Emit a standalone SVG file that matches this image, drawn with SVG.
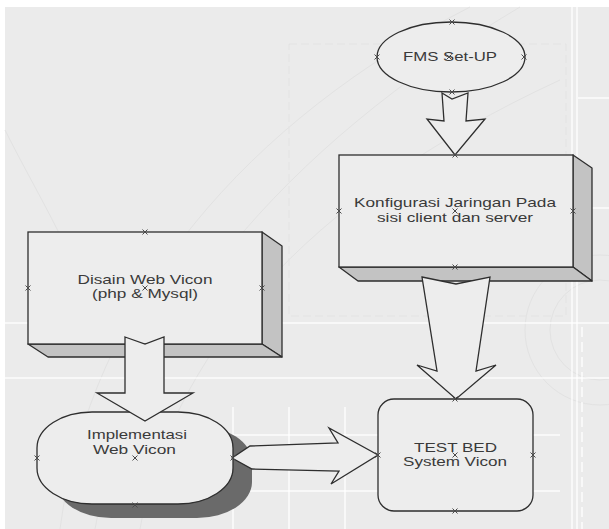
<svg xmlns="http://www.w3.org/2000/svg" xmlns:xlink="http://www.w3.org/1999/xlink" width="609" height="529" viewBox="0 0 609 529">
<defs>
<style>
.bg{fill:#ebebeb}
.deco{stroke:#ffffff;stroke-width:1.5;fill:none;opacity:0.85}
.faint{stroke:#e2e2e2;stroke-width:1;fill:none}
.dash{stroke:#e3e3e3;stroke-width:1;fill:none;stroke-dasharray:8 4}
.shape{fill:#ededed;stroke:#2e2e2e;stroke-width:1.3}
.side{fill:#c3c3c3;stroke:#2e2e2e;stroke-width:1.3;stroke-linejoin:round}
.shadow{fill:#6a6a6a}
.arrow{fill:#ededed;stroke:#2e2e2e;stroke-width:1.3;stroke-linejoin:miter}
.lbl{font-family:"Liberation Sans",Arial,sans-serif;font-size:13px;fill:#3a3a3a;text-anchor:middle}
.xm{stroke:#4a4a4a;stroke-width:1;fill:none}
</style>
<path id="x" class="xm" d="M-2.5,-2.5 L2.5,2.5 M-2.5,2.5 L2.5,-2.5"/>
</defs>

<rect width="609" height="529" fill="#ffffff"/>
<rect class="bg" x="5" y="7" width="604" height="522"/>

<g id="background">
<path class="faint" d="M60,529 C90,300 250,120 470,7"/>
<path class="faint" d="M95,529 C130,330 280,150 520,7"/>
<path class="faint" d="M140,529 C170,360 300,200 560,80"/>
<path class="faint" d="M5,130 C40,200 80,260 100,340"/>
<circle class="faint" cx="600" cy="330" r="75"/>
<circle class="faint" cx="600" cy="330" r="50"/>
<rect class="dash" x="289" y="44" width="277" height="272"/>
<line class="deco" x1="5" y1="323" x2="609" y2="323"/>
<line class="deco" x1="5" y1="378" x2="609" y2="378"/>
<line class="deco" x1="233" y1="435" x2="560" y2="435"/>
<line class="deco" x1="233" y1="491" x2="560" y2="491"/>
<line class="deco" x1="233" y1="407" x2="233" y2="529"/>
<line class="deco" x1="289" y1="407" x2="289" y2="529"/>
<line class="deco" x1="345" y1="407" x2="345" y2="529"/>
<line class="deco" x1="572" y1="7" x2="572" y2="529"/>
<line class="deco" x1="577" y1="7" x2="577" y2="529"/>
<line class="deco" x1="578" y1="98" x2="609" y2="98"/>
<line class="deco" x1="578" y1="208" x2="609" y2="208"/>
<line class="deco" x1="582" y1="327" x2="582" y2="529" stroke-dasharray="10 5"/>
</g>

<g id="node-fms">
<ellipse class="shape" cx="451" cy="57" rx="74" ry="35"/>
<text class="lbl" x="450" y="61" textLength="94" lengthAdjust="spacingAndGlyphs">FMS Set-UP</text>
</g>

<g id="node-konfigurasi">
<polygon class="side" points="573,155 592,168 592,281 573,267"/>
<polygon class="side" points="339,267 573,267 592,281 358,281"/>
<rect class="shape" x="339" y="155" width="234" height="112"/>
<text class="lbl" x="455" y="207" textLength="202" lengthAdjust="spacingAndGlyphs">Konfigurasi Jaringan Pada</text>
<text class="lbl" x="455" y="222" textLength="156" lengthAdjust="spacingAndGlyphs">sisi client dan server</text>
</g>

<g id="node-disain">
<polygon class="side" points="262,232 282,246 282,357 262,344"/>
<polygon class="side" points="28,344 262,344 282,357 48,357"/>
<rect class="shape" x="28" y="232" width="234" height="112"/>
<text class="lbl" x="145" y="284" textLength="135" lengthAdjust="spacingAndGlyphs">Disain Web Vicon</text>
<text class="lbl" x="145" y="298" textLength="106" lengthAdjust="spacingAndGlyphs">(php &amp; Mysql)</text>
</g>

<g id="node-implementasi">
<rect class="shadow" x="56" y="426" width="196" height="92" rx="55" ry="36"/>
<rect class="shape" x="37" y="412" width="196" height="92" rx="55" ry="36"/>
<text class="lbl" x="137" y="439" textLength="100" lengthAdjust="spacingAndGlyphs">Implementasi</text>
<text class="lbl" x="134.5" y="454" textLength="83" lengthAdjust="spacingAndGlyphs">Web Vicon</text>
</g>

<g id="node-testbed">
<rect class="shape" x="378" y="399" width="155" height="112" rx="16" ry="16"/>
<text class="lbl" x="455.5" y="452" textLength="83" lengthAdjust="spacingAndGlyphs">TEST BED</text>
<text class="lbl" x="455" y="466" textLength="104" lengthAdjust="spacingAndGlyphs">System Vicon</text>
</g>

<g id="connectors">
<polygon class="arrow" points="442,93 452,99 468,93 466,121 485,119 455,155 427,119 444,121"/>
<polygon class="arrow" points="422,277 456,284 490,277 476,371 496,365 456,399 417,365 437,371"/>
<polygon class="arrow" points="125,337 145,344 164,337 164,393 193,393 145,421 97,393 125,393"/>
<polygon class="arrow" points="232,458 250,446 338,443 329,428 378,455 331,484 339,471 252,469"/>
</g>

<g id="handles">
<use xlink:href="#x" x="452" y="22"/>
<use xlink:href="#x" x="377" y="57"/>
<use xlink:href="#x" x="524" y="57"/>
<use xlink:href="#x" x="449" y="57"/>
<use xlink:href="#x" x="452" y="92"/>
<use xlink:href="#x" x="455" y="155"/>
<use xlink:href="#x" x="339" y="211"/>
<use xlink:href="#x" x="573" y="211"/>
<use xlink:href="#x" x="455" y="211"/>
<use xlink:href="#x" x="455" y="267"/>
<use xlink:href="#x" x="145" y="232"/>
<use xlink:href="#x" x="28" y="288"/>
<use xlink:href="#x" x="262" y="288"/>
<use xlink:href="#x" x="145" y="288"/>
<use xlink:href="#x" x="37" y="458"/>
<use xlink:href="#x" x="233" y="458"/>
<use xlink:href="#x" x="135" y="458"/>
<use xlink:href="#x" x="135" y="505"/>
<use xlink:href="#x" x="455" y="399"/>
<use xlink:href="#x" x="378" y="455"/>
<use xlink:href="#x" x="533" y="455"/>
<use xlink:href="#x" x="455" y="455"/>
<use xlink:href="#x" x="455" y="511"/>
</g>
</svg>
